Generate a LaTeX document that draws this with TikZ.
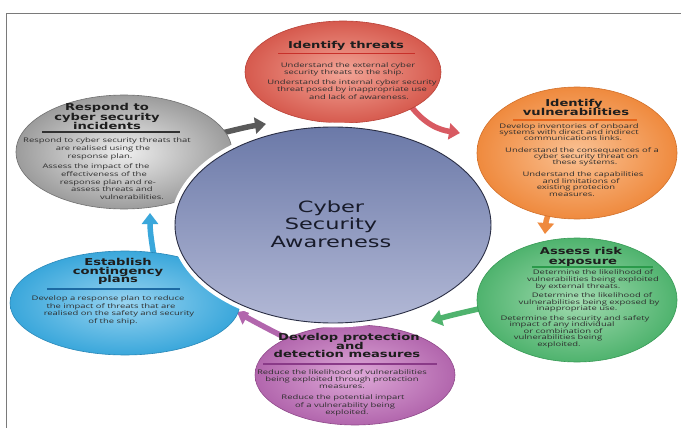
\documentclass[tikz,border=0pt]{standalone}
\usepackage{fontspec}
\usetikzlibrary{shapes.geometric,arrows.meta}
\newfontfamily\bodyf[FakeStretch=1.5]{Open Sans}
\newfontfamily\ttlf[FakeStretch=1.38]{DejaVu Sans}
\newfontfamily\ctrf[FakeStretch=1.45]{DejaVu Sans}
\definecolor{redO}{HTML}{D65A4E}\definecolor{redI}{HTML}{F3A597}\definecolor{redB}{HTML}{B94238}\definecolor{redL}{HTML}{C8302A}\definecolor{redA}{HTML}{D85A62}
\definecolor{orO}{HTML}{EF8A3E}\definecolor{orI}{HTML}{FAC193}\definecolor{orB}{HTML}{D2702A}\definecolor{orL}{HTML}{E8661A}
\definecolor{grO}{HTML}{4FB36E}\definecolor{grI}{HTML}{A2DBB0}\definecolor{grB}{HTML}{379A55}\definecolor{grL}{HTML}{2A9A4A}
\definecolor{puO}{HTML}{B266AD}\definecolor{puI}{HTML}{DEA9D8}\definecolor{puB}{HTML}{8F4A8A}\definecolor{puL}{HTML}{8A3A88}
\definecolor{blO}{HTML}{3AA7DB}\definecolor{blI}{HTML}{98D4F1}\definecolor{blB}{HTML}{2A88B8}\definecolor{blL}{HTML}{1C6AA3}
\definecolor{gyO}{HTML}{9C9C9C}\definecolor{gyI}{HTML}{EEEEEE}\definecolor{gyB}{HTML}{707070}\definecolor{gyL}{HTML}{303030}\definecolor{gyA}{HTML}{5A5A5A}
\definecolor{ctrT}{HTML}{6B79A8}\definecolor{ctrB}{HTML}{B3B9D6}\definecolor{ctrE}{HTML}{2A2E44}\definecolor{ctrtx}{HTML}{181B2A}
\definecolor{framec}{HTML}{7A7A7A}\definecolor{bodyc}{HTML}{2E2E2E}\definecolor{ttlc}{HTML}{1E1E1E}
\pgfdeclarelayer{arrowlayer}
\pgfsetlayers{arrowlayer,main}
\begin{document}
\begin{tikzpicture}[x=1pt,y=-1pt,
  bubble/.style={ellipse, inner sep=0pt, line width=0.6pt},
  body/.style={font=\bodyf\fontsize{6.3}{7}\selectfont, text=bodyc, inner sep=0pt, text height=4.6pt, text depth=1.4pt},
  ttl/.style={font=\ttlf\bfseries\fontsize{9.5}{10}\selectfont, text=ttlc, inner sep=0pt, text height=7pt, text depth=2pt},
  arr/.style={line width=5.5pt, -{Triangle[length=11pt,width=16pt]}},
  rule/.style={line width=1.3pt}]
\useasboundingbox (0,0) rectangle (681,428);
\begin{pgfonlayer}{arrowlayer}
\fill[white] (0,0) rectangle (681,428);
\draw[framec, line width=1.2pt] (681,13.5) -- (6.5,13.5) -- (6.5,428);
\end{pgfonlayer}
% bubbles
\node[bubble, minimum width=216pt, minimum height=114pt, draw=gyB, inner color=gyI, outer color=gyO] (bubG) at (124,152) {};
\node[bubble, minimum width=196pt, minimum height=102pt, draw=redB, inner color=redI, outer color=redO] (bubR) at (343,72) {};
\node[bubble, minimum width=200pt, minimum height=132pt, draw=orB, inner color=orI, outer color=orO] (bubO) at (577,153) {};
\node[bubble, minimum width=200pt, minimum height=124pt, draw=grB, inner color=grI, outer color=grO] (bubN) at (577,300) {};
\node[bubble, minimum width=200pt, minimum height=100pt, draw=puB, inner color=puI, outer color=puO] (bubP) at (355,375) {};
\node[bubble, minimum width=230pt, minimum height=104pt, draw=blB, inner color=blI, outer color=blO] (bubB) at (125,303) {};
% arrow tips
\coordinate (tipR) at (460,133);
\coordinate (tipO) at (545,234);
\coordinate (tipN) at (431,321);
\coordinate (tipP) at (237,312);
\coordinate (tipB) at (150,213);
\coordinate (tipG) at (266,124);
\begin{pgfonlayer}{arrowlayer}
\draw[arr, redA] (bubR.center) ++(67,33) .. controls (425,125) and (440,130) .. (tipR);
\draw[arr, orO] (bubO.center) ++(-25,52) .. controls (548,215) and (546,220) .. (tipO);
\draw[arr, grO] (bubN.center) ++(-82,5) .. controls (475,310) and (455,314) .. (tipN);
\draw[arr, puO] (bubP.center) ++(-65,-35) .. controls (270,330) and (255,322) .. (tipP);
\draw[arr, blO] (bubB.center) ++(30,-41) .. controls (152,245) and (150,232) .. (tipB);
\draw[arr, gyA] (bubG.center) ++(88,-17) .. controls (228,132) and (245,127) .. (tipG);
\end{pgfonlayer}
% centre
\node[ellipse, inner sep=0pt, minimum width=316pt, minimum height=196pt,
  preaction={draw=white, line width=9pt}, draw=ctrE, line width=0.9pt,
  top color=ctrT, bottom color=ctrB] (ctr) at (333,225) {};
\node[font=\ctrf\fontsize{15.5}{17.5}\selectfont, align=center, text=ctrtx, inner sep=0pt] (ctrtxt) at (331,224) {Cyber\\Security\\Awareness};
% rules
\draw[rule, gyL] (42,132) -- (180,132);
\draw[rule, redL] (278,53.5) -- (415,53.5);
\draw[rule, orL] (513,120) -- (637,120);
\draw[rule, grL] (532,267) -- (653,267);
\draw[rule, puL] (263,364) -- (437,364);
\draw[rule, blL] (47,289) -- (180,289);
% titles
\foreach \x/\y/\t [count=\i] in {107/108/Respond to, 107/118/cyber security, 107/127/incidents}
  \node[ttl] (tG\i) at (\x,\y) {\t};
\node[ttl] (tR1) at (346,46) {Identify threats};
\foreach \x/\y/\t [count=\i] in {574/104/Identify, 576/113/vulnerabilities}
  \node[ttl] (tO\i) at (\x,\y) {\t};
\foreach \x/\y/\t [count=\i] in {581/252/Assess risk, 583/262/exposure}
  \node[ttl] (tN\i) at (\x,\y) {\t};
\foreach \x/\y/\t [count=\i] in {349/338/Develop protection, 350/347/and, 347/355/detection measures}
  \node[ttl] (tP\i) at (\x,\y) {\t};
\foreach \x/\y/\t [count=\i] in {118/263/Establish, 118/272/contingency, 118/280/plans}
  \node[ttl] (tB\i) at (\x,\y) {\t};
% bodies
\foreach \x/\y/\t [count=\i] in {107/141/Respond to cyber security threats that, 103/149/are realised using the, 100/157/response plan., 96/167/Assess the impact of the, 104/175/effectiveness of the, 108/183/response plan and re-, 112/190/assess threats  and, 132/198/vulnerabilities.}
  \node[body] (bG\i) at (\x,\y) {\t};
\foreach \x/\y/\t [count=\i] in {348/66/Understand the external cyber, 344/73/security threats to the ship., 352/83/Understand the internal cyber security, 352/90/threat posed by inappropriate use, 359/98/and lack of awareness.}
  \node[body] (bR\i) at (\x,\y) {\t};
\foreach \x/\y/\t [count=\i] in {569/127/Develop inventories of onboard, 569/133/systems with direct and indirect, 573/139/communications links., 582/151/Understand the consequences of a, 586/157/cyber security threat on, 585/163/these  systems., 583/175/Understand the capabilities, 581/182/and limitations of, 576/188/existing protecion, 572/195/measures.}
  \node[body] (bO\i) at (\x,\y) {\t};
\foreach \x/\y/\t [count=\i] in {593/273/Determine the likelihood of, 593/280/vulnerabilities being exploited, 578/287/by external threats., 592/296/Determine the likelihood of, 589/303/vulnerabilities being exposed by, 577/309/inappropriate use., 575/319/Determine the security and safety, 562/325/impact of any individual, 563/332/or combination of, 558/338/vulnerabilities being, 559/345/exploited.}
  \node[body] (bN\i) at (\x,\y) {\t};
\foreach \x/\y/\t [count=\i] in {342/373/Reduce the likelihood of vulnerabilities, 342/380/being exploited through protection, 342/387/measures., 343/398/Reduce the potential impart, 345/406/of a vulnerability being, 347/413/exploited.}
  \node[body] (bP\i) at (\x,\y) {\t};
\foreach \x/\y/\t [count=\i] in {108/299/Develop a response plan to reduce, 111/307/the impact of threats that are, 119/314/realised on the safety and security, 113/322/of the ship.}
  \node[body] (bB\i) at (\x,\y) {\t};
\end{tikzpicture}
\end{document}
